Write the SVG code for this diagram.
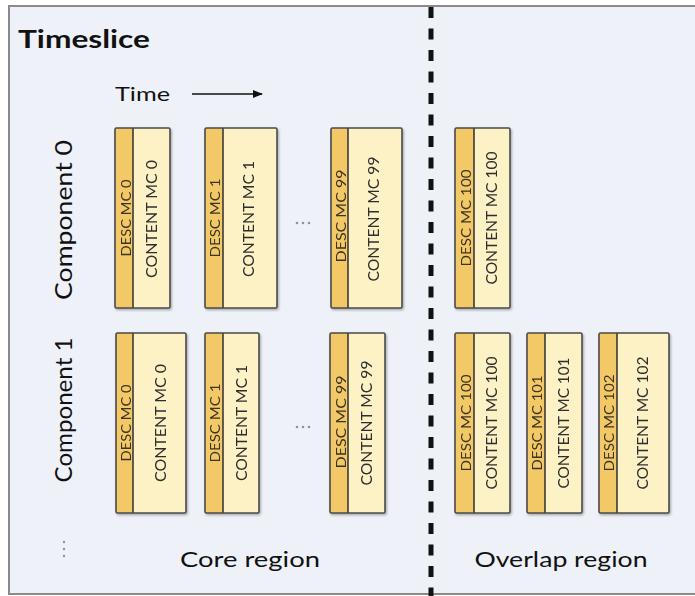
<svg xmlns="http://www.w3.org/2000/svg" width="695" height="596" viewBox="0 0 695 596">
<style>
.desc{fill:#f3c968;stroke:none}
.cont{fill:#fdf1c6;stroke:none}
.frame{fill:none;stroke:#4a4a4a;stroke-width:1.6}
.div{stroke:#3a3a3a;stroke-width:1.6}
.dt{font-family:Lato,"Liberation Sans",sans-serif;font-size:13px;fill:#3b3420;text-anchor:middle}
.ct{font-family:Lato,"Liberation Sans",sans-serif;font-size:15px;fill:#2e2e2e;text-anchor:middle}
.lbl{font-family:Lato,"Liberation Sans",sans-serif;fill:#111}
.dots{fill:#8a92aa}
</style>
<defs>
<filter id="sh" x="-10%" y="-5%" width="130%" height="115%">
<feDropShadow dx="1.2" dy="1.5" stdDeviation="1" flood-color="#000" flood-opacity="0.3"/>
</filter>
<marker id="ah" markerWidth="10" markerHeight="8" refX="9" refY="4" orient="auto" markerUnits="userSpaceOnUse">
<path d="M0,0 L10,4 L0,8 z" fill="#111"/>
</marker>
</defs>
<rect x="0" y="0" width="695" height="596" fill="#ffffff"/>
<rect x="9" y="6" width="700" height="588" fill="#eef2f8" stroke="#8a8a8a" stroke-width="2"/>
<text class="lbl" x="18" y="48" font-size="24" font-weight="bold" textLength="132" lengthAdjust="spacingAndGlyphs">Timeslice</text>
<text class="lbl" x="115" y="101" font-size="20" textLength="55" lengthAdjust="spacingAndGlyphs">Time</text>
<g id="connectors">
<line x1="192" y1="94" x2="262" y2="94" stroke="#111" stroke-width="1.5" marker-end="url(#ah)"/>
<line x1="431" y1="7" x2="431" y2="596" stroke="#111" stroke-width="5" stroke-dasharray="11 10.5"/>
</g>
<text class="lbl" font-size="24" transform="translate(72,220) rotate(-90)" text-anchor="middle" textLength="160" lengthAdjust="spacingAndGlyphs">Component 0</text>
<text class="lbl" font-size="24" transform="translate(72,410) rotate(-90)" text-anchor="middle" textLength="145" lengthAdjust="spacingAndGlyphs">Component 1</text>
<text class="lbl" x="250" y="567" font-size="22" text-anchor="middle" textLength="140" lengthAdjust="spacingAndGlyphs">Core region</text>
<text class="lbl" x="561" y="567" font-size="22" text-anchor="middle" textLength="173" lengthAdjust="spacingAndGlyphs">Overlap region</text>
<g class="dots">
<circle cx="297" cy="223" r="1.3"/><circle cx="303" cy="223" r="1.3"/><circle cx="309" cy="223" r="1.3"/>
<circle cx="297" cy="427" r="1.3"/><circle cx="303" cy="427" r="1.3"/><circle cx="309" cy="427" r="1.3"/>
<circle cx="64" cy="542" r="1.2"/><circle cx="64" cy="549" r="1.2"/><circle cx="64" cy="556" r="1.2"/>
</g>
<g id="c0-mc0" filter="url(#sh)">
<rect class="cont" x="115" y="128" width="55" height="180"/><rect class="desc" x="115" y="128" width="18" height="180"/>
<line class="div" x1="133" y1="128" x2="133" y2="308"/><rect class="frame" x="115" y="128" width="55" height="180" rx="1.5"/>
<text class="dt" transform="translate(126,218) rotate(-90)" dy="0.36em" textLength="77" lengthAdjust="spacingAndGlyphs">DESC MC 0</text>
<text class="ct" transform="translate(152,219) rotate(-90)" dy="0.36em" textLength="118" lengthAdjust="spacingAndGlyphs">CONTENT MC 0</text>
</g>
<g id="c0-mc1" filter="url(#sh)">
<rect class="cont" x="205" y="128" width="72" height="180"/><rect class="desc" x="205" y="128" width="18" height="180"/>
<line class="div" x1="223" y1="128" x2="223" y2="308"/><rect class="frame" x="205" y="128" width="72" height="180" rx="1.5"/>
<text class="dt" transform="translate(215,218) rotate(-90)" dy="0.36em" textLength="79" lengthAdjust="spacingAndGlyphs">DESC MC 1</text>
<text class="ct" transform="translate(249,219) rotate(-90)" dy="0.36em" textLength="116" lengthAdjust="spacingAndGlyphs">CONTENT MC 1</text>
</g>
<g id="c0-mc99" filter="url(#sh)">
<rect class="cont" x="331" y="128" width="71" height="180"/><rect class="desc" x="331" y="128" width="17" height="180"/>
<line class="div" x1="348" y1="128" x2="348" y2="308"/><rect class="frame" x="331" y="128" width="71" height="180" rx="1.5"/>
<text class="dt" transform="translate(341,216) rotate(-90)" dy="0.36em" textLength="93" lengthAdjust="spacingAndGlyphs">DESC MC 99</text>
<text class="ct" transform="translate(374,219) rotate(-90)" dy="0.36em" textLength="125" lengthAdjust="spacingAndGlyphs">CONTENT MC 99</text>
</g>
<g id="c0-mc100" filter="url(#sh)">
<rect class="cont" x="455" y="128" width="55" height="180"/><rect class="desc" x="455" y="128" width="19" height="180"/>
<line class="div" x1="474" y1="128" x2="474" y2="308"/><rect class="frame" x="455" y="128" width="55" height="180" rx="1.5"/>
<text class="dt" transform="translate(466,218) rotate(-90)" dy="0.36em" textLength="97" lengthAdjust="spacingAndGlyphs">DESC MC 100</text>
<text class="ct" transform="translate(492,218) rotate(-90)" dy="0.36em" textLength="133" lengthAdjust="spacingAndGlyphs">CONTENT MC 100</text>
</g>
<g id="c1-mc0" filter="url(#sh)">
<rect class="cont" x="116" y="333" width="70" height="180"/><rect class="desc" x="116" y="333" width="17" height="180"/>
<line class="div" x1="133" y1="333" x2="133" y2="513"/><rect class="frame" x="116" y="333" width="70" height="180" rx="1.5"/>
<text class="dt" transform="translate(126,423) rotate(-90)" dy="0.36em" textLength="77" lengthAdjust="spacingAndGlyphs">DESC MC 0</text>
<text class="ct" transform="translate(161,423) rotate(-90)" dy="0.36em" textLength="118" lengthAdjust="spacingAndGlyphs">CONTENT MC 0</text>
</g>
<g id="c1-mc1" filter="url(#sh)">
<rect class="cont" x="205" y="333" width="54" height="180"/><rect class="desc" x="205" y="333" width="18" height="180"/>
<line class="div" x1="223" y1="333" x2="223" y2="513"/><rect class="frame" x="205" y="333" width="54" height="180" rx="1.5"/>
<text class="dt" transform="translate(215,423) rotate(-90)" dy="0.36em" textLength="79" lengthAdjust="spacingAndGlyphs">DESC MC 1</text>
<text class="ct" transform="translate(242,423) rotate(-90)" dy="0.36em" textLength="116" lengthAdjust="spacingAndGlyphs">CONTENT MC 1</text>
</g>
<g id="c1-mc99" filter="url(#sh)">
<rect class="cont" x="330" y="333" width="55" height="180"/><rect class="desc" x="330" y="333" width="18" height="180"/>
<line class="div" x1="348" y1="333" x2="348" y2="513"/><rect class="frame" x="330" y="333" width="55" height="180" rx="1.5"/>
<text class="dt" transform="translate(341,422) rotate(-90)" dy="0.36em" textLength="93" lengthAdjust="spacingAndGlyphs">DESC MC 99</text>
<text class="ct" transform="translate(367,423) rotate(-90)" dy="0.36em" textLength="125" lengthAdjust="spacingAndGlyphs">CONTENT MC 99</text>
</g>
<g id="c1-mc100" filter="url(#sh)">
<rect class="cont" x="455" y="333" width="55" height="180"/><rect class="desc" x="455" y="333" width="19" height="180"/>
<line class="div" x1="474" y1="333" x2="474" y2="513"/><rect class="frame" x="455" y="333" width="55" height="180" rx="1.5"/>
<text class="dt" transform="translate(466,423) rotate(-90)" dy="0.36em" textLength="97" lengthAdjust="spacingAndGlyphs">DESC MC 100</text>
<text class="ct" transform="translate(492,423) rotate(-90)" dy="0.36em" textLength="133" lengthAdjust="spacingAndGlyphs">CONTENT MC 100</text>
</g>
<g id="c1-mc101" filter="url(#sh)">
<rect class="cont" x="527" y="333" width="55" height="180"/><rect class="desc" x="527" y="333" width="18" height="180"/>
<line class="div" x1="545" y1="333" x2="545" y2="513"/><rect class="frame" x="527" y="333" width="55" height="180" rx="1.5"/>
<text class="dt" transform="translate(537,423) rotate(-90)" dy="0.36em" textLength="95" lengthAdjust="spacingAndGlyphs">DESC MC 101</text>
<text class="ct" transform="translate(564,423) rotate(-90)" dy="0.36em" textLength="131" lengthAdjust="spacingAndGlyphs">CONTENT MC 101</text>
</g>
<g id="c1-mc102" filter="url(#sh)">
<rect class="cont" x="599" y="333" width="70" height="180"/><rect class="desc" x="599" y="333" width="18" height="180"/>
<line class="div" x1="617" y1="333" x2="617" y2="513"/><rect class="frame" x="599" y="333" width="70" height="180" rx="1.5"/>
<text class="dt" transform="translate(609,423) rotate(-90)" dy="0.36em" textLength="97" lengthAdjust="spacingAndGlyphs">DESC MC 102</text>
<text class="ct" transform="translate(643,423) rotate(-90)" dy="0.36em" textLength="133" lengthAdjust="spacingAndGlyphs">CONTENT MC 102</text>
</g>
</svg>
